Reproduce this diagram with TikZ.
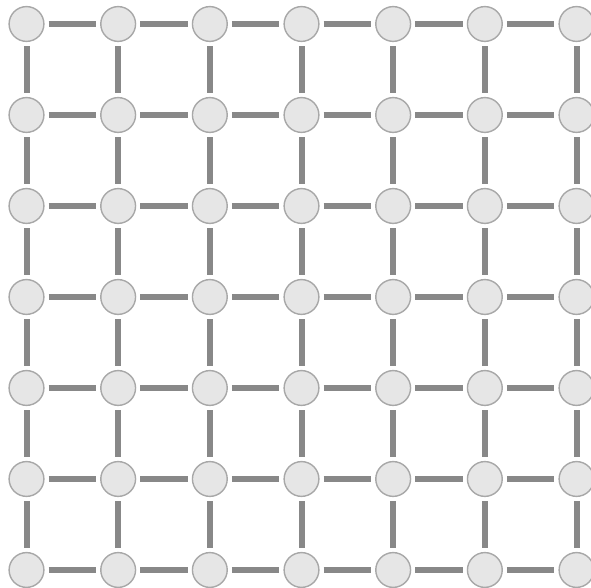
\documentclass[tikz,border=0pt]{standalone}
\usepackage{tikz}
\usetikzlibrary{positioning}
\definecolor{nodefill}{RGB}{230,230,230}
\definecolor{nodeline}{RGB}{168,168,168}
\definecolor{edgegray}{RGB}{136,136,136}

\begin{document}
\begin{tikzpicture}[
  site/.style={circle, draw=nodeline, fill=nodefill, line width=1pt,
               minimum size=0.87cm, inner sep=0pt},
  bond/.style={draw=edgegray, line width=0.15cm, shorten <=0.1cm, shorten >=0.1cm}]
\useasboundingbox (0,0) rectangle (14.775,14.7);
% lattice sites, i = column, j = row (from the top)
\foreach \i in {0,...,6}
  \foreach \j in {0,...,6}
    \node[site] (n-\i-\j) at ({0.6625+2.2917*\i},{14.1-2.275*\j}) {};
% bonds to the right and below
\foreach \i in {0,...,5}
  \foreach \j in {0,...,6} {
    \pgfmathtruncatemacro\k{\i+1}
    \draw[bond] (n-\i-\j) -- (n-\k-\j);
  }
\foreach \i in {0,...,6}
  \foreach \j in {0,...,5} {
    \pgfmathtruncatemacro\k{\j+1}
    \draw[bond] (n-\i-\j) -- (n-\i-\k);
  }
\end{tikzpicture}
\end{document}
